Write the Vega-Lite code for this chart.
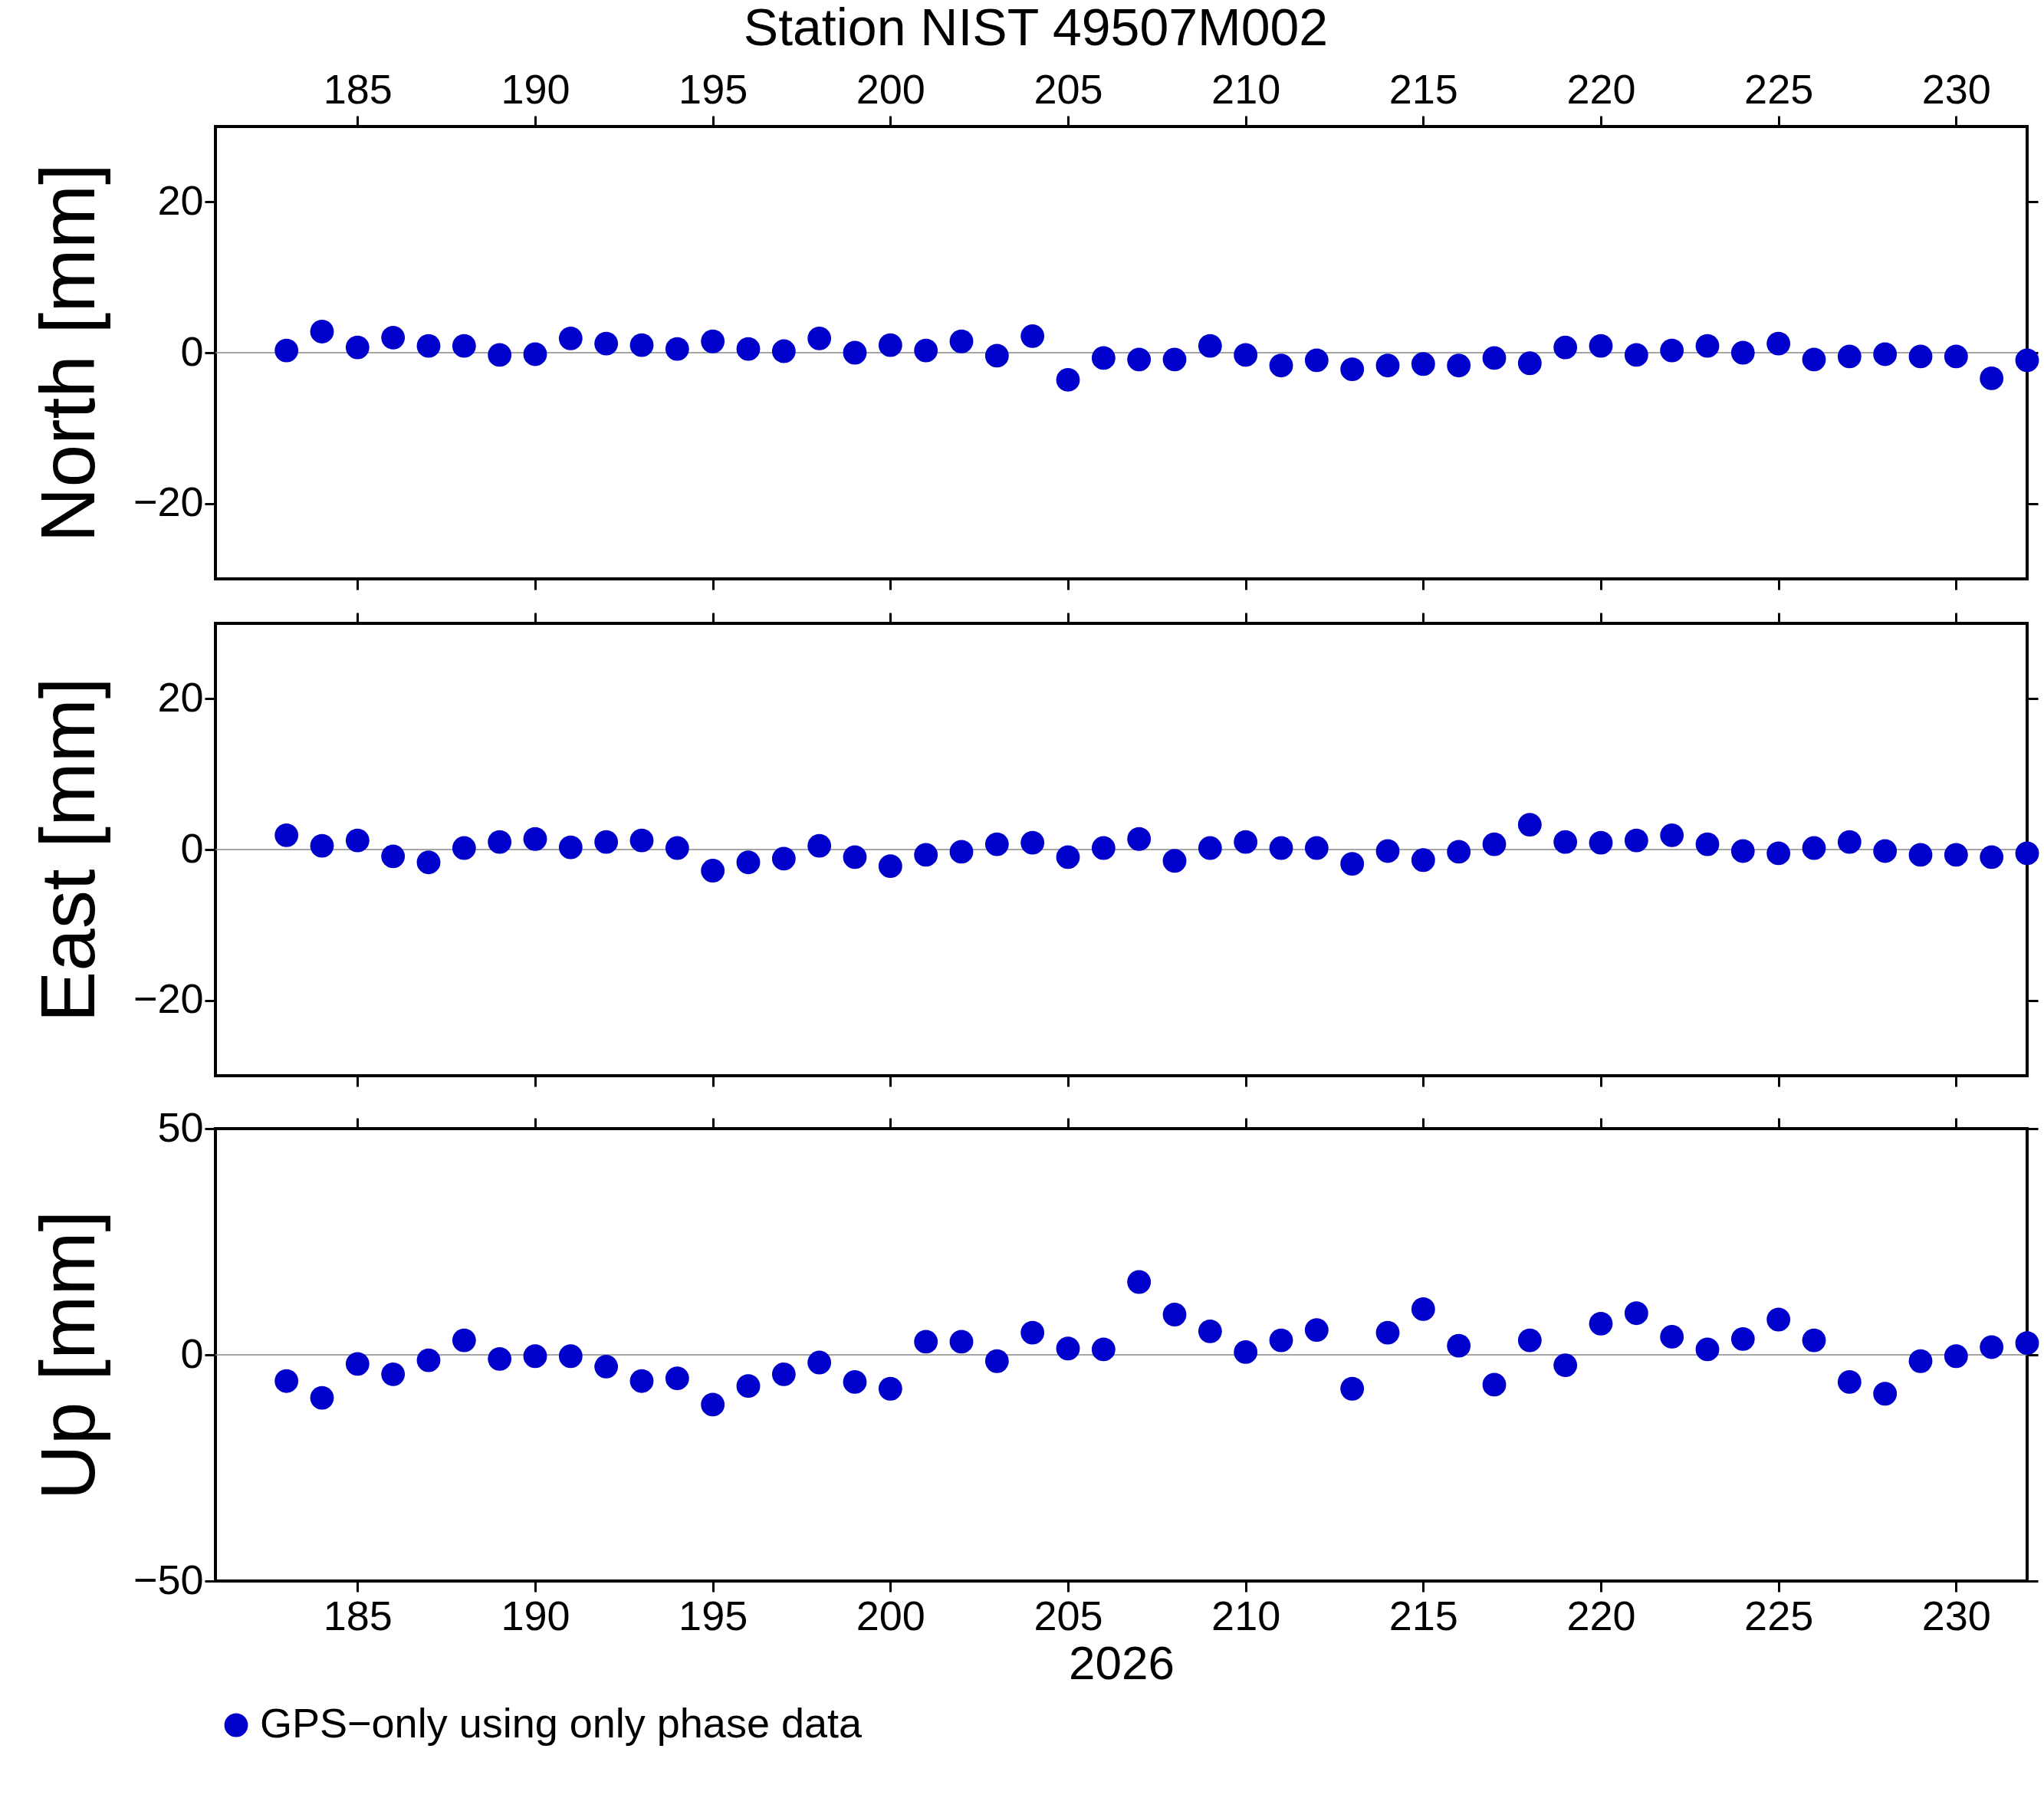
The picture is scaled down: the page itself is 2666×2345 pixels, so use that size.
{
  "$schema": "https://vega.github.io/schema/vega-lite/v6.json",
  "background": "white",
  "padding": {"left": 40, "top": 5, "right": 5, "bottom": 10},
  "title": {"text": "Station NIST 49507M002", "fontSize": 68, "fontWeight": "normal", "font": "Liberation Sans", "offset": 16, "anchor": "middle"},
  "config": {
    "font": "Liberation Sans",
    "view": {"stroke": "black", "strokeWidth": 4},
    "axis": {"labelFontSize": 54, "labelColor": "black", "tickColor": "black", "tickWidth": 3, "tickSize": 14, "domain": false, "grid": false, "titleFontWeight": "normal", "titleColor": "black"},
    "concat": {"spacing": 22}
  },
  "datasets": {
    "pts": [
      {"day":183,"comp":"N","v":0.3},{"day":184,"comp":"N","v":2.8},{"day":185,"comp":"N","v":0.7},{"day":186,"comp":"N","v":2},{"day":187,"comp":"N","v":0.9},{"day":188,"comp":"N","v":0.9},{"day":189,"comp":"N","v":-0.3},{"day":190,"comp":"N","v":-0.2},{"day":191,"comp":"N","v":1.9},{"day":192,"comp":"N","v":1.2},{"day":193,"comp":"N","v":1},{"day":194,"comp":"N","v":0.5},{"day":195,"comp":"N","v":1.5},{"day":196,"comp":"N","v":0.5},{"day":197,"comp":"N","v":0.2},{"day":198,"comp":"N","v":1.9},{"day":199,"comp":"N","v":0},{"day":200,"comp":"N","v":1},{"day":201,"comp":"N","v":0.3},{"day":202,"comp":"N","v":1.5},{"day":203,"comp":"N","v":-0.4},{"day":204,"comp":"N","v":2.2},{"day":205,"comp":"N","v":-3.6},{"day":206,"comp":"N","v":-0.7},{"day":207,"comp":"N","v":-0.9},{"day":208,"comp":"N","v":-0.9},{"day":209,"comp":"N","v":0.9},{"day":210,"comp":"N","v":-0.3},{"day":211,"comp":"N","v":-1.7},{"day":212,"comp":"N","v":-1},{"day":213,"comp":"N","v":-2.2},{"day":214,"comp":"N","v":-1.7},{"day":215,"comp":"N","v":-1.5},{"day":216,"comp":"N","v":-1.7},{"day":217,"comp":"N","v":-0.7},{"day":218,"comp":"N","v":-1.4},{"day":219,"comp":"N","v":0.7},{"day":220,"comp":"N","v":0.9},{"day":221,"comp":"N","v":-0.3},{"day":222,"comp":"N","v":0.3},{"day":223,"comp":"N","v":0.9},{"day":224,"comp":"N","v":0},{"day":225,"comp":"N","v":1.2},{"day":226,"comp":"N","v":-0.9},{"day":227,"comp":"N","v":-0.5},{"day":228,"comp":"N","v":-0.2},{"day":229,"comp":"N","v":-0.5},{"day":230,"comp":"N","v":-0.5},{"day":231,"comp":"N","v":-3.4},{"day":232,"comp":"N","v":-1},
      {"day":183,"comp":"E","v":1.9},{"day":184,"comp":"E","v":0.5},{"day":185,"comp":"E","v":1.2},{"day":186,"comp":"E","v":-0.9},{"day":187,"comp":"E","v":-1.7},{"day":188,"comp":"E","v":0.2},{"day":189,"comp":"E","v":1},{"day":190,"comp":"E","v":1.4},{"day":191,"comp":"E","v":0.3},{"day":192,"comp":"E","v":1},{"day":193,"comp":"E","v":1.2},{"day":194,"comp":"E","v":0.2},{"day":195,"comp":"E","v":-2.8},{"day":196,"comp":"E","v":-1.7},{"day":197,"comp":"E","v":-1.2},{"day":198,"comp":"E","v":0.5},{"day":199,"comp":"E","v":-1},{"day":200,"comp":"E","v":-2.2},{"day":201,"comp":"E","v":-0.7},{"day":202,"comp":"E","v":-0.3},{"day":203,"comp":"E","v":0.7},{"day":204,"comp":"E","v":0.9},{"day":205,"comp":"E","v":-1},{"day":206,"comp":"E","v":0.2},{"day":207,"comp":"E","v":1.4},{"day":208,"comp":"E","v":-1.5},{"day":209,"comp":"E","v":0.2},{"day":210,"comp":"E","v":1},{"day":211,"comp":"E","v":0.2},{"day":212,"comp":"E","v":0.2},{"day":213,"comp":"E","v":-1.9},{"day":214,"comp":"E","v":-0.2},{"day":215,"comp":"E","v":-1.4},{"day":216,"comp":"E","v":-0.3},{"day":217,"comp":"E","v":0.7},{"day":218,"comp":"E","v":3.3},{"day":219,"comp":"E","v":1},{"day":220,"comp":"E","v":0.9},{"day":221,"comp":"E","v":1.2},{"day":222,"comp":"E","v":1.9},{"day":223,"comp":"E","v":0.7},{"day":224,"comp":"E","v":-0.2},{"day":225,"comp":"E","v":-0.5},{"day":226,"comp":"E","v":0.2},{"day":227,"comp":"E","v":1},{"day":228,"comp":"E","v":-0.2},{"day":229,"comp":"E","v":-0.7},{"day":230,"comp":"E","v":-0.7},{"day":231,"comp":"E","v":-1},{"day":232,"comp":"E","v":-0.5},
      {"day":183,"comp":"U","v":-5.8},{"day":184,"comp":"U","v":-9.5},{"day":185,"comp":"U","v":-2},{"day":186,"comp":"U","v":-4.3},{"day":187,"comp":"U","v":-1.2},{"day":188,"comp":"U","v":3.2},{"day":189,"comp":"U","v":-0.9},{"day":190,"comp":"U","v":-0.3},{"day":191,"comp":"U","v":-0.3},{"day":192,"comp":"U","v":-2.6},{"day":193,"comp":"U","v":-5.8},{"day":194,"comp":"U","v":-5.2},{"day":195,"comp":"U","v":-11},{"day":196,"comp":"U","v":-6.9},{"day":197,"comp":"U","v":-4.3},{"day":198,"comp":"U","v":-1.7},{"day":199,"comp":"U","v":-6},{"day":200,"comp":"U","v":-7.5},{"day":201,"comp":"U","v":2.9},{"day":202,"comp":"U","v":2.9},{"day":203,"comp":"U","v":-1.4},{"day":204,"comp":"U","v":4.9},{"day":205,"comp":"U","v":1.4},{"day":206,"comp":"U","v":1.2},{"day":207,"comp":"U","v":16.1},{"day":208,"comp":"U","v":8.9},{"day":209,"comp":"U","v":5.2},{"day":210,"comp":"U","v":0.6},{"day":211,"comp":"U","v":3.2},{"day":212,"comp":"U","v":5.5},{"day":213,"comp":"U","v":-7.5},{"day":214,"comp":"U","v":4.9},{"day":215,"comp":"U","v":10.1},{"day":216,"comp":"U","v":2},{"day":217,"comp":"U","v":-6.6},{"day":218,"comp":"U","v":3.2},{"day":219,"comp":"U","v":-2.3},{"day":220,"comp":"U","v":6.9},{"day":221,"comp":"U","v":9.2},{"day":222,"comp":"U","v":4},{"day":223,"comp":"U","v":1.2},{"day":224,"comp":"U","v":3.5},{"day":225,"comp":"U","v":7.8},{"day":226,"comp":"U","v":3.2},{"day":227,"comp":"U","v":-6},{"day":228,"comp":"U","v":-8.6},{"day":229,"comp":"U","v":-1.4},{"day":230,"comp":"U","v":-0.3},{"day":231,"comp":"U","v":1.7},{"day":232,"comp":"U","v":2.6}
    ]
  },
  "vconcat": [
    {
      "width": 2363, "height": 590,
      "data": {"name": "pts"},
      "transform": [{"filter": "datum.comp === 'N'"}],
      "resolve": {"axis": {"x": "independent", "y": "independent"}},
      "layer": [
        {"mark": {"type": "rule", "color": "#888", "strokeWidth": 1.5}, "data": {"values": [{"z": 0}]}, "encoding": {"y": {"field": "z", "type": "quantitative", "axis": null}}},
        {"mark": {"type": "point", "filled": true, "opacity": 1, "size": 950, "color": "#0000cc"},
          "encoding": {
            "x": {"field": "day", "type": "quantitative", "scale": {"domain": [181, 232], "nice": false, "zero": false}, "axis": {"orient": "top", "values": [185,190,195,200,205,210,215,220,225,230], "title": null, "labelPadding": 6}},
            "y": {"field": "v", "type": "quantitative", "scale": {"domain": [-30, 30], "nice": false}, "axis": {"orient": "left", "values": [-20,0,20], "title": "North [mm]", "titleFontSize": 100, "titlePadding": 30}}
          }},
        {"mark": {"type": "point", "opacity": 0},
          "encoding": {
            "x": {"field": "day", "type": "quantitative", "axis": {"orient": "bottom", "values": [185,190,195,200,205,210,215,220,225,230], "labels": false, "title": null}},
            "y": {"field": "v", "type": "quantitative", "axis": {"orient": "right", "values": [-20,0,20], "labels": false, "title": null}}
          }}
      ]
    },
    {
      "width": 2363, "height": 590,
      "data": {"name": "pts"},
      "transform": [{"filter": "datum.comp === 'E'"}],
      "resolve": {"axis": {"x": "independent", "y": "independent"}},
      "layer": [
        {"mark": {"type": "rule", "color": "#888", "strokeWidth": 1.5}, "data": {"values": [{"z": 0}]}, "encoding": {"y": {"field": "z", "type": "quantitative", "axis": null}}},
        {"mark": {"type": "point", "filled": true, "opacity": 1, "size": 950, "color": "#0000cc"},
          "encoding": {
            "x": {"field": "day", "type": "quantitative", "scale": {"domain": [181, 232], "nice": false, "zero": false}, "axis": {"orient": "top", "values": [185,190,195,200,205,210,215,220,225,230], "labels": false, "title": null}},
            "y": {"field": "v", "type": "quantitative", "scale": {"domain": [-30, 30], "nice": false}, "axis": {"orient": "left", "values": [-20,0,20], "title": "East [mm]", "titleFontSize": 100, "titlePadding": 30}}
          }},
        {"mark": {"type": "point", "opacity": 0},
          "encoding": {
            "x": {"field": "day", "type": "quantitative", "axis": {"orient": "bottom", "values": [185,190,195,200,205,210,215,220,225,230], "labels": false, "title": null}},
            "y": {"field": "v", "type": "quantitative", "axis": {"orient": "right", "values": [-20,0,20], "labels": false, "title": null}}
          }}
      ]
    },
    {
      "width": 2363, "height": 590,
      "data": {"name": "pts"},
      "transform": [{"filter": "datum.comp === 'U'"}],
      "resolve": {"axis": {"x": "independent", "y": "independent"}},
      "layer": [
        {"mark": {"type": "rule", "color": "#888", "strokeWidth": 1.5}, "data": {"values": [{"z": 0}]}, "encoding": {"y": {"field": "z", "type": "quantitative", "axis": null}}},
        {"mark": {"type": "point", "filled": true, "opacity": 1, "size": 950},
          "encoding": {
            "x": {"field": "day", "type": "quantitative", "scale": {"domain": [181, 232], "nice": false, "zero": false}, "axis": {"orient": "bottom", "values": [185,190,195,200,205,210,215,220,225,230], "title": "2026", "titleFontSize": 62, "labelPadding": 6, "titlePadding": 4}},
            "y": {"field": "v", "type": "quantitative", "scale": {"domain": [-50, 50], "nice": false}, "axis": {"orient": "left", "values": [-50,0,50], "title": "Up [mm]", "titleFontSize": 100, "titlePadding": 30}},
            "color": {"datum": "GPS−only using only phase data", "type": "nominal", "scale": {"range": ["#0000cc"]},
              "legend": {"orient": "bottom", "title": null, "labelFontSize": 54, "labelLimit": 0, "labelColor": "black", "symbolSize": 950, "symbolType": "circle", "symbolOpacity": 1, "offset": 20}}
          }},
        {"mark": {"type": "point", "opacity": 0},
          "encoding": {
            "x": {"field": "day", "type": "quantitative", "axis": {"orient": "top", "values": [185,190,195,200,205,210,215,220,225,230], "labels": false, "title": null}},
            "y": {"field": "v", "type": "quantitative", "axis": {"orient": "right", "values": [-50,0,50], "labels": false, "title": null}}
          }}
      ]
    }
  ]
}
